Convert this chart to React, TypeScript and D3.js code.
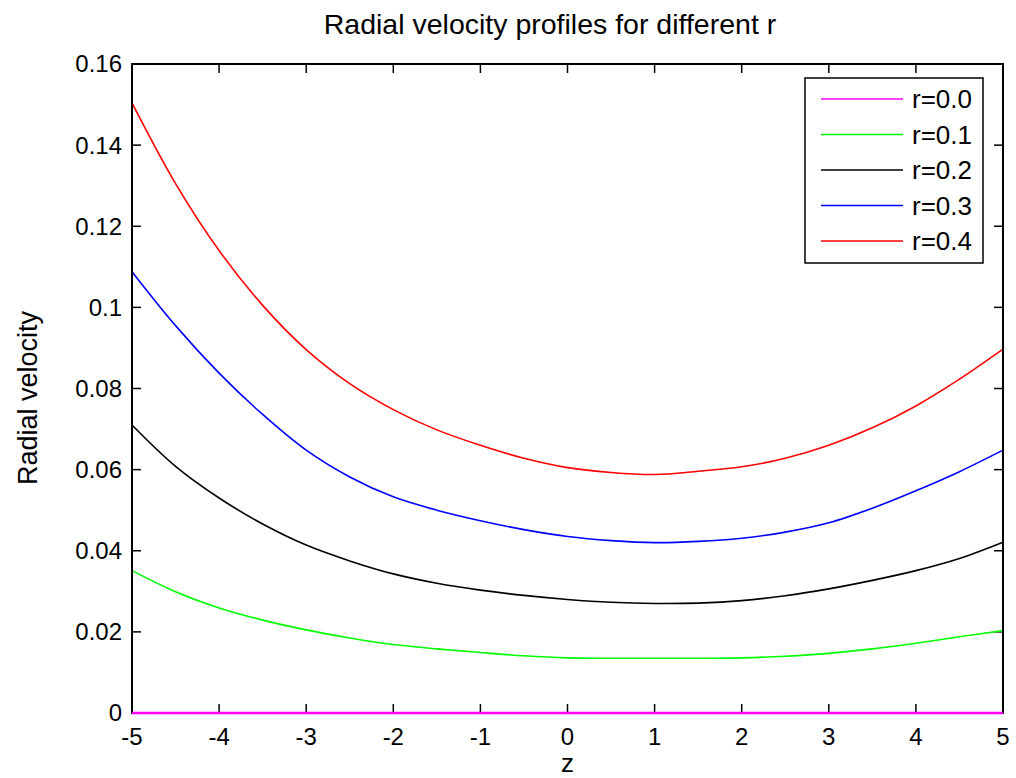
import React, { useRef, useEffect } from 'react';
import * as d3 from 'd3';

// z positions sampled along each profile
const zValues = [-5, -4.5, -4, -3.5, -3, -2.5, -2, -1.5, -1, -0.5, 0, 0.5, 1, 1.5, 2, 2.5, 3, 3.5, 4, 4.5, 5];

const r00 = [0, 0, 0, 0, 0, 0, 0, 0, 0, 0, 0, 0, 0, 0, 0, 0, 0, 0, 0, 0, 0];
const r01 = [0.0351, 0.0299, 0.0259, 0.0229, 0.0205, 0.0185, 0.0169, 0.0158, 0.0149, 0.0141, 0.0136, 0.0135, 0.0135, 0.0135, 0.0136, 0.0140, 0.0147, 0.0158, 0.0172, 0.0188, 0.0203];
const r02 = [0.071, 0.0608, 0.0530, 0.0466, 0.0414, 0.0375, 0.0343, 0.032, 0.0303, 0.029, 0.028, 0.0273, 0.027, 0.0271, 0.0277, 0.0289, 0.0306, 0.0327, 0.0351, 0.0381, 0.0421];
const r03 = [0.1088, 0.0955, 0.0838, 0.0736, 0.0648, 0.0582, 0.0533, 0.0500, 0.0474, 0.0452, 0.0435, 0.0425, 0.042, 0.0423, 0.0431, 0.0446, 0.0469, 0.0505, 0.0548, 0.0595, 0.0648];
const r04 = [0.1504, 0.1305, 0.1140, 0.1005, 0.0896, 0.0812, 0.0748, 0.0698, 0.066, 0.0628, 0.0605, 0.0593, 0.0588, 0.0596, 0.0607, 0.0628, 0.0660, 0.0703, 0.0757, 0.0823, 0.0897];

const seriesNames = ['r=0.0', 'r=0.1', 'r=0.2', 'r=0.3', 'r=0.4'];
const seriesValues = [r00, r01, r02, r03, r04];
const seriesColors = ['#ff00ff', '#00ff00', '#000000', '#0000ff', '#ff0000'];

const xTicks = [-5, -4, -3, -2, -1, 0, 1, 2, 3, 4, 5];
const yTicks = [0, 0.02, 0.04, 0.06, 0.08, 0.1, 0.12, 0.14, 0.16];

const W = 1016;
const H = 778;
const margin = { top: 64, right: 13, bottom: 65, left: 132 };
const FONT = '"Liberation Sans", Arial, sans-serif';

const App = () => {
  const svgRef = useRef<SVGSVGElement>(null);

  useEffect(() => {
    const svg = d3.select(svgRef.current);
    svg.selectAll('*').remove();

    const innerW = W - margin.left - margin.right;
    const innerH = H - margin.top - margin.bottom;

    const x = d3.scaleLinear().domain([-5, 5]).range([0, innerW]);
    const y = d3.scaleLinear().domain([0, 0.16]).range([innerH, 0]);

    svg.append('rect').attr('width', W).attr('height', H).attr('fill', '#ffffff');

    const g = svg.append('g').attr('transform', `translate(${margin.left},${margin.top})`);

    // ticks point inward on all four sides
    const tickLen = 9;
    const tickLines = (data: number[], fn: (sel: any) => void) => {
      const sel = g.append('g')
        .selectAll('line')
        .data(data)
        .enter()
        .append('line')
        .attr('stroke', '#000')
        .attr('stroke-width', 1.5);
      fn(sel);
    };
    tickLines(xTicks, s => s.attr('x1', (d: number) => x(d)).attr('x2', (d: number) => x(d)).attr('y1', innerH).attr('y2', innerH - tickLen));
    tickLines(xTicks, s => s.attr('x1', (d: number) => x(d)).attr('x2', (d: number) => x(d)).attr('y1', 0).attr('y2', tickLen));
    tickLines(yTicks, s => s.attr('x1', 0).attr('x2', tickLen).attr('y1', (d: number) => y(d)).attr('y2', (d: number) => y(d)));
    tickLines(yTicks, s => s.attr('x1', innerW).attr('x2', innerW - tickLen).attr('y1', (d: number) => y(d)).attr('y2', (d: number) => y(d)));

    // tick labels
    g.append('g')
      .selectAll('text')
      .data(xTicks)
      .enter()
      .append('text')
      .attr('x', d => x(d))
      .attr('y', innerH + 32)
      .attr('text-anchor', 'middle')
      .attr('font-family', FONT)
      .attr('font-size', 24)
      .text(d => String(d));
    g.append('g')
      .selectAll('text')
      .data(yTicks)
      .enter()
      .append('text')
      .attr('x', -10)
      .attr('y', d => y(d))
      .attr('dy', '0.35em')
      .attr('text-anchor', 'end')
      .attr('font-family', FONT)
      .attr('font-size', 24)
      .text(d => String(+d.toFixed(2)));

    // curves
    const line = d3.line<number>()
      .x((_, i) => x(zValues[i]))
      .y(d => y(d))
      .curve(d3.curveCatmullRom);

    const plot = g.append('g');
    seriesValues.forEach((vals, i) => {
      if (i === 0) return;
      plot.append('path')
        .attr('d', line(vals))
        .attr('fill', 'none')
        .attr('stroke', seriesColors[i])
        .attr('stroke-width', 1.6);
    });

    // axes box
    g.append('rect')
      .attr('width', innerW).attr('height', innerH)
      .attr('fill', 'none').attr('stroke', '#000').attr('stroke-width', 2);

    // r=0.0 sits on the bottom axis, drawn over it
    g.append('path')
      .attr('d', line(seriesValues[0]))
      .attr('fill', 'none')
      .attr('stroke', seriesColors[0])
      .attr('stroke-width', 2.5);

    // legend
    const lg = svg.append('g').attr('transform', 'translate(805,78)');
    lg.append('rect')
      .attr('width', 178).attr('height', 185)
      .attr('fill', '#fff').attr('stroke', '#000').attr('stroke-width', 1.5);
    seriesNames.forEach((name, i) => {
      const ry = 21 + i * 35.5;
      lg.append('line')
        .attr('x1', 16).attr('x2', 98)
        .attr('y1', ry).attr('y2', ry)
        .attr('stroke', seriesColors[i]).attr('stroke-width', 1.6);
      lg.append('text')
        .attr('x', 107).attr('y', ry)
        .attr('dy', '0.35em')
        .attr('font-family', FONT)
        .attr('font-size', 26)
        .text(name);
    });

    // title and axis labels
    svg.append('text')
      .attr('x', 550)
      .attr('y', 34)
      .attr('text-anchor', 'middle')
      .attr('font-family', FONT)
      .attr('font-size', 28.5)
      .text('Radial velocity profiles for different r');
    svg.append('text')
      .attr('x', margin.left + innerW / 2)
      .attr('y', 772)
      .attr('text-anchor', 'middle')
      .attr('font-family', FONT)
      .attr('font-size', 26)
      .text('z');
    svg.append('text')
      .attr('transform', `translate(37,${398}) rotate(-90)`)
      .attr('text-anchor', 'middle')
      .attr('font-family', FONT)
      .attr('font-size', 27)
      .text('Radial velocity');
  }, []);

  return (
    <svg
      ref={svgRef}
      width={W}
      height={H}
      style={{ position: 'absolute', left: 0, top: 0 }}
    ></svg>
  );
};

export default App;
